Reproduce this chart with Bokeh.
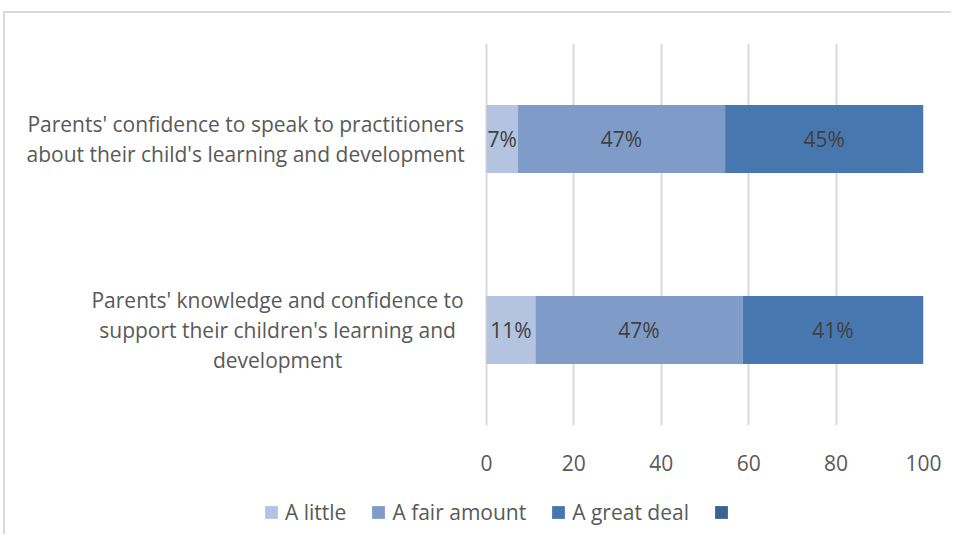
from bokeh.plotting import figure
from bokeh.layouts import column
from bokeh.models import ColumnDataSource, FixedTicker, Legend, LegendItem, FactorRange, Range1d
from bokeh.core.properties import value
from bokeh.embed import file_html
from bokeh.resources import INLINE

# ---- data ----
categories = [
    "Parents' knowledge and confidence to\nsupport their children's learning and\ndevelopment",
    "Parents' confidence to speak to practitioners\nabout their child's learning and development",
]
series_names = ["A little", "A fair amount", "A great deal", ""]
a_little = [11.2, 7.2]
a_fair_amount = [47.4, 47.4]
a_great_deal = [41.4, 45.4]
x_ticks = [0, 20, 40, 60, 80, 100]

colors = ["#B4C3DF", "#7F9CC8", "#4877AF", "#3C6397"]
FONT = "Open Sans"
TXT = "#595959"
FS = "21px"

# category label block centres (x in value units, left of the zero line)
cat_label_x = [-47.8, -55.1]

LINE = "linear-gradient(#D9D9D9, #D9D9D9)"

p = figure(frame_width=923, frame_height=382, y_range=FactorRange(*categories, range_padding=0),
           x_range=Range1d(-111.2, 100), output_backend="svg", toolbar_location=None,
           min_border_left=0, min_border_right=28, min_border_top=43, min_border_bottom=70)
p.outline_line_color = None
p.background_fill_color = None
p.border_fill_color = None
p.styles = {
    "background-color": "white",
    "background-image": f"{LINE}, {LINE}",
    "background-size": "100% 2px, 2px 100%",
    "background-position": "4px 11px, 3px 11px",
    "background-repeat": "no-repeat",
}

left = [0, 0]
text_x, text_y, text_s = [], [], []
for name, vals, col in zip(series_names[:3], [a_little, a_fair_amount, a_great_deal], colors[:3]):
    right = [l + v for l, v in zip(left, vals)]
    src = ColumnDataSource(dict(y=categories, left=left, right=right))
    p.hbar(y="y", left="left", right="right", height=0.356, source=src,
           fill_color=col, line_color=None)
    for c, l, v in zip(categories, left, vals):
        text_x.append(l + v / 2)
        text_y.append(c)
        text_s.append(f"{round(v)}%")
    left = right

p.text(x=text_x, y=text_y, text=text_s, text_align="center", text_baseline="middle",
       text_font=value(FONT), text_font_size=FS, text_color="#404040")

# category labels (centred lines, block right-aligned near the axis)
p.text(x=cat_label_x, y=categories, text=categories, text_align="center", text_baseline="middle",
       text_font=value(FONT), text_font_size=FS, text_color=TXT, text_line_height=1.07)

# grid
p.xgrid.ticker = FixedTicker(ticks=x_ticks)
p.xgrid.grid_line_color = "#D9D9D9"
p.xgrid.grid_line_width = 2
p.ygrid.grid_line_color = None

# axes
p.xaxis.ticker = FixedTicker(ticks=x_ticks)
p.xaxis.axis_line_color = None
p.xaxis.major_tick_line_color = None
p.xaxis.minor_tick_line_color = None
p.xaxis.major_tick_out = 0
p.xaxis.major_tick_in = 0
p.xaxis.major_label_standoff = 29
p.xaxis.major_label_text_font = FONT
p.xaxis.major_label_text_font_size = FS
p.xaxis.major_label_text_color = TXT
p.yaxis.visible = False

# ---- legend strip (separate small figure so the legend can sit anywhere) ----
pl = figure(width=951, height=39, x_range=Range1d(0, 1), y_range=Range1d(0, 1),
            x_axis_type=None, y_axis_type=None, output_backend="svg", toolbar_location=None,
            min_border=0)
pl.outline_line_color = None
pl.background_fill_color = None
pl.border_fill_color = None
pl.styles = {
    "background-color": "white",
    "background-image": LINE,
    "background-size": "2px 100%",
    "background-position": "3px 0px",
    "background-repeat": "no-repeat",
}
# legend-only swatch renderers (one off-screen placeholder each, never visible)
leg_renderers = [pl.hbar(y=[-10], left=[0], right=[0], height=0.5, fill_color=c, line_color=None)
                 for c in colors]

legend = Legend(items=[LegendItem(label=n, renderers=[r]) for n, r in zip(series_names, leg_renderers)],
                orientation="horizontal", location=(263, 8),
                glyph_width=16, glyph_height=16, label_standoff=6, spacing=24, label_height=12,
                label_text_font=FONT, label_text_font_size=FS, label_text_color=TXT,
                border_line_color=None, background_fill_alpha=0, padding=2, margin=0)
pl.add_layout(legend, "center")

layout = column(p, pl, spacing=0)
open("out.html", "w").write(file_html(layout, INLINE))
